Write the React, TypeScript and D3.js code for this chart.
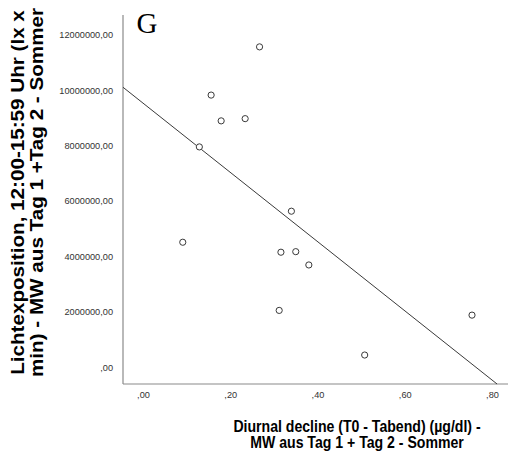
import React from "react";
import * as d3 from "d3";

const xValues = [0.128, 0.155, 0.178, 0.233, 0.266, 0.339, 0.090, 0.315, 0.349, 0.379, 0.311, 0.507, 0.753];
const yValues = [7960000, 9830000, 8900000, 8980000, 11570000, 5640000, 4520000, 4160000, 4180000, 3700000, 2060000, 450000, 1890000];
const xTicks = [0, 0.2, 0.4, 0.6, 0.8];
const yTicks = [0, 2000000, 4000000, 6000000, 8000000, 10000000, 12000000];
const xTitle = ["Diurnal decline (T0 - Tabend) (µg/dl) -", "MW aus Tag 1 + Tag 2 - Sommer"];
const yTitle = ["Lichtexposition, 12:00-15:59 Uhr (lx x", "min) - MW aus Tag 1 +Tag 2 - Sommer"];
const panelLabel = "G";

const W = 508;
const H = 457;
const L = 123, R = 508, T = 15, B = 384;

const fmt = (v: number) => {
  const s = v.toFixed(2).replace(".", ",");
  return s.startsWith("0,") ? s.slice(1) : s;
};

export default function App() {
  const x = d3.scaleLinear().domain([-0.047, 0.8355]).range([L, R]);
  const y = d3.scaleLinear().domain([-595500, 12720000]).range([B, T]);

  const pts = xValues.map((v, i) => [v, yValues[i]] as [number, number]);
  const mx = d3.mean(xValues)!;
  const my = d3.mean(yValues)!;
  const sxy = d3.sum(pts, (p) => (p[0] - mx) * (p[1] - my));
  const sxx = d3.sum(xValues, (v) => (v - mx) * (v - mx));
  const slope = sxy / sxx;
  const icpt = my - slope * mx;
  const [x0] = x.domain();
  const yMin = y.domain()[0];
  const x1 = (yMin - icpt) / slope;
  const linePath = d3.line<[number, number]>()
    .x((d) => x(d[0]))
    .y((d) => y(d[1]))([[x0, icpt + slope * x0], [x1, yMin]]);

  const font = "Arial, 'Liberation Sans', sans-serif";
  const yTitleCenter = 192.5;
  const xTitleCenter = 357;
  const stretch = 1.16;

  return (
    <svg width={W} height={H} style={{ position: "absolute", left: 0, top: 0, background: "#fff" }}>
      <rect x={0} y={0} width={W} height={H} fill="#fff" />
      {/* axes */}
      <line x1={L} x2={L} y1={T} y2={B} stroke="#8a8a8a" strokeWidth={1.2} />
      <line x1={L} x2={R} y1={B} y2={B} stroke="#8a8a8a" strokeWidth={1.2} />
      {yTicks.map((t) => (
        <text key={"y" + t} x={113} y={y(t)} dy="0.35em" textAnchor="end" fontSize={9.2} fontFamily={font} fill="#333">
          {fmt(t)}
        </text>
      ))}
      {xTicks.map((t) => (
        <text key={"x" + t} x={x(t)} y={398} textAnchor="middle" fontSize={9.2} fontFamily={font} fill="#333">
          {fmt(t)}
        </text>
      ))}
      {/* regression line */}
      <path d={linePath || ""} fill="none" stroke="#3a3a3a" strokeWidth={1} />
      {/* points */}
      {pts.map((p, i) => (
        <circle key={i} cx={x(p[0])} cy={y(p[1])} r={3.1} fill="#fff" stroke="#3a3a3a" strokeWidth={1} />
      ))}
      {/* panel label */}
      <text x={136.5} y={33.3} fontSize={29} fontFamily="'Liberation Serif', 'Times New Roman', serif" fill="#000">
        {panelLabel}
      </text>
      {/* y title */}
      {yTitle.map((s, i) => (
        <text key={"yt" + i} transform={`translate(${24 + i * 19},${yTitleCenter}) rotate(-90) scale(${stretch},1)`} textAnchor="middle"
          fontSize={17.8} fontWeight="bold" fontFamily={font} fill="#000">
          {s}
        </text>
      ))}
      {/* x title */}
      {xTitle.map((s, i) => (
        <text key={"xt" + i} transform={`translate(${xTitleCenter},${431.5 + i * 16.5}) scale(1,${stretch})`} textAnchor="middle"
          fontSize={14.1} fontWeight="bold" fontFamily={font} fill="#000">
          {s}
        </text>
      ))}
    </svg>
  );
}
